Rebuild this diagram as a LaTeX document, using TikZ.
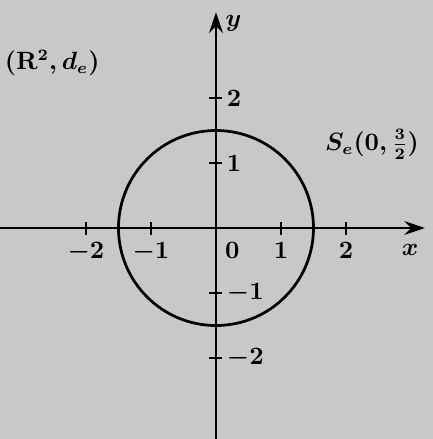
\documentclass[tikz,border=0pt]{standalone}
\usepackage{amsmath}
\usepackage{amssymb}
\usepackage{tikz}
\usetikzlibrary{positioning, arrows.meta, calc}
\usepackage{xcolor}
\definecolor{paper}{RGB}{200,200,198}

\begin{document}
\begin{tikzpicture}[line width=1.2pt, font=\fontsize{10.5}{12}\selectfont\bfseries\boldmath,
  axis/.style={-{Stealth[length=9pt, width=6pt]}},
  tick/.style={line width=1.2pt}]
% Paper
\fill[paper] (-3.323,-3.246) rectangle (3.338,3.508);
\useasboundingbox (-3.323,-3.246) rectangle (3.338,3.508);

% Axes
\coordinate (xleft) at (-3.323, 0);
\coordinate (xright) at (3.215, 0);
\coordinate (ybottom) at (0, -3.246);
\coordinate (ytop) at (0, 3.32);
\draw[axis] (xleft) -- (xright);
\draw[axis] (ybottom) -- (ytop);
\node (xlabel) at (2.985, -0.34) {$x$};
\node (ylabel) at (0.27, 3.15) {$y$};

% Ticks
\foreach \t/\lab in {-2/-2, -1/-1, 1/1, 2/2} {
  \draw[tick] (\t, -0.1) -- (\t, 0.1);
  \node[below] (xt\lab) at (\t, -0.08) {$\lab$};
}
\foreach \t/\lab in {-2/-2, -1/-1, 1/1, 2/2} {
  \draw[tick] (-0.1, \t) -- (0.1, \t);
  \node[right, xshift=-2pt] (yt\lab) at (0.1, \t) {$\lab$};
}
\node (zero) at (0.25, -0.34) {$0$};

% Circle
\draw (0, 0) circle (1.5);

% Labels
\node (space) at (-2.52, 2.54) {$(\mathbf{R}^2, d_e)$};
\node (sphere) at (2.4, 1.28) {$S_e(0, \frac{3}{2})$};
\end{tikzpicture}
\end{document}
